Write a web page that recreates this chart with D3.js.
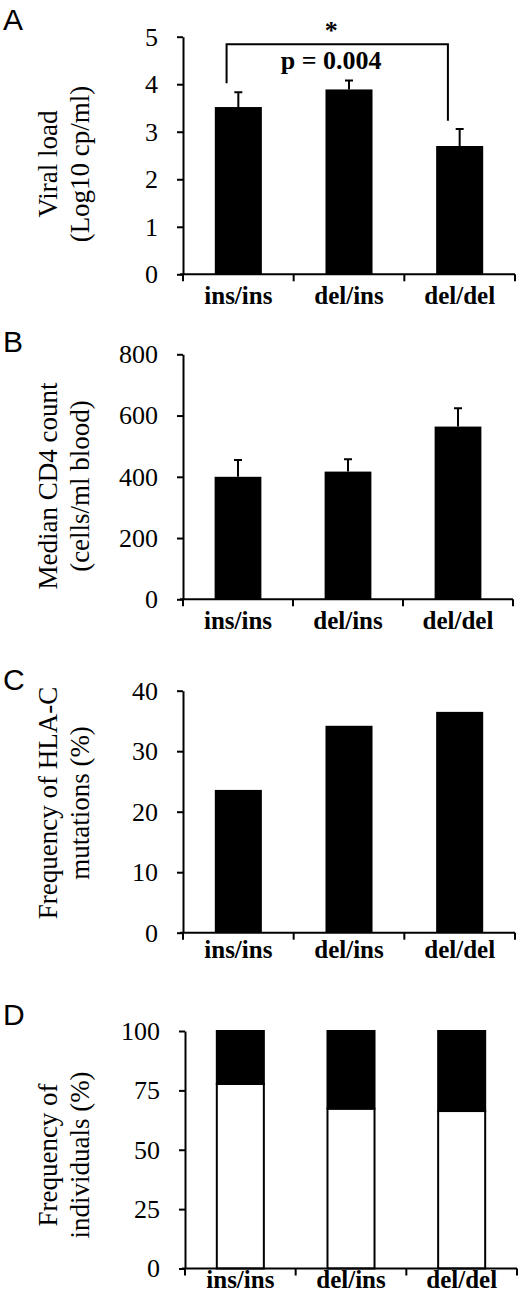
<!DOCTYPE html>
<html lang="en">
<head>
    <meta charset="UTF-8">
    <title>Genotype panels A-D</title>
    <script src="https://cdnjs.cloudflare.com/ajax/libs/d3/7.8.5/d3.min.js"></script>
    <style>
        body {
            margin: 0;
            padding: 0;
            background-color: #fff;
        }
        svg { display: block; }
        .tick text, .title, .sig {
            font-family: "Liberation Serif", "Times New Roman", serif;
            fill: #000;
        }
        .panel-letter {
            font-family: "Liberation Sans", Arial, sans-serif;
            font-size: 30px;
            fill: #000;
        }
        .domain, .tick line {
            stroke: #000;
            stroke-width: 2px;
        }
    </style>
</head>
<body>
    <div id="chart"></div>
    <script>
        // data
        const genotypes = ["ins/ins", "del/ins", "del/del"];

        const viralLoad = [3.52, 3.89, 2.70];
        const viralLoadErr = [0.31, 0.19, 0.36];
        const viralTicks = [0, 1, 2, 3, 4, 5];

        const cd4Count = [400, 417, 564];
        const cd4Err = [55, 40, 60];
        const cd4Ticks = [0, 200, 400, 600, 800];

        const hlaMutFreq = [23.6, 34.2, 36.5];
        const hlaTicks = [0, 10, 20, 30, 40];

        // panel D: lower (white) and upper (black) parts of each stacked bar
        const indivWhite = [77.7, 67.3, 66.3];
        const indivBlack = [22.3, 32.7, 33.7];
        const indivTicks = [0, 25, 50, 75, 100];

        // significance bracket, panel A
        const sigPair = ["ins/ins", "del/del"];
        const sigTop = 4.84;
        const sigLegs = [4.02, 3.23];
        const sigText = "p = 0.004";

        const W = 520, H = 1295;

        const svg = d3.select("#chart").append("svg")
            .attr("width", W)
            .attr("height", H);

        svg.append("rect").attr("width", W).attr("height", H).attr("fill", "#fff");

        const panels = [
            { letter: "A", letterY: 30, x0: 183, x1: 515, y0: 274.3, y1: 36.7, max: 5, ticks: viralTicks,
              title: ["Viral load", "(Log10 cp/ml)"], titleY: 164, labelPad: 12,
              values: viralLoad, err: viralLoadErr },
            { letter: "B", letterY: 352, x0: 183, x1: 513, y0: 599.3, y1: 354.3, max: 800, ticks: cd4Ticks,
              title: ["Median CD4 count", "(cells/ml blood)"], titleY: 486, labelPad: 12,
              values: cd4Count, err: cd4Err },
            { letter: "C", letterY: 690, x0: 183, x1: 515, y0: 932.7, y1: 690.7, max: 40, ticks: hlaTicks,
              title: ["Frequency of HLA-C", "mutations (%)"], titleY: 803, labelPad: 8,
              values: hlaMutFreq },
            { letter: "D", letterY: 1025, x0: 185, x1: 517, y0: 1268.5, y1: 1031, max: 100, ticks: indivTicks,
              title: ["Frequency of", "individuals (%)"], titleY: 1155, labelPad: 2,
              stacks: [indivWhite, indivBlack] }
        ];

        panels.forEach(p => {
            const g = svg.append("g");

            const x = d3.scaleBand()
                .domain(genotypes)
                .range([p.x0, p.x1])
                .paddingInner(0.575)
                .paddingOuter(0.2875);

            const y = d3.scaleLinear()
                .domain([0, p.max])
                .range([p.y0, p.y1]);

            g.append("text")
                .attr("class", "panel-letter")
                .attr("x", 3)
                .attr("y", p.letterY)
                .text(p.letter);

            // y title, two lines
            p.title.forEach((t, i) => {
                g.append("text")
                    .attr("class", "title")
                    .attr("transform", `translate(${57 + i * 32},${p.titleY}) rotate(-90)`)
                    .attr("text-anchor", "middle")
                    .style("font-size", "27px")
                    .text(t);
            });

            // bars
            if (p.values) {
                g.selectAll(".bar")
                    .data(p.values)
                    .enter().append("rect")
                    .attr("x", (d, i) => x(genotypes[i]))
                    .attr("y", d => y(d))
                    .attr("width", x.bandwidth())
                    .attr("height", d => y(0) - y(d))
                    .attr("fill", "#000");
            }

            if (p.err) {
                const cx = i => x(genotypes[i]) + x.bandwidth() / 2;
                g.selectAll(".err")
                    .data(p.values)
                    .enter().append("path")
                    .attr("fill", "none")
                    .attr("stroke", "#000")
                    .attr("stroke-width", 2)
                    .attr("d", (d, i) => {
                        const top = y(d + p.err[i]);
                        return `M${cx(i)},${y(d)}V${top}M${cx(i) - 4},${top}H${cx(i) + 4}`;
                    });
            }

            if (p.stacks) {
                const colours = ["#fff", "#000"];
                let base = genotypes.map(() => 0);
                p.stacks.forEach((s, k) => {
                    g.selectAll(".stack" + k)
                        .data(s)
                        .enter().append("rect")
                        .attr("x", (d, i) => x(genotypes[i]))
                        .attr("y", (d, i) => y(base[i] + d))
                        .attr("width", x.bandwidth())
                        .attr("height", (d, i) => y(base[i]) - y(base[i] + d))
                        .attr("fill", colours[k])
                        .attr("stroke", "#000")
                        .attr("stroke-width", 2);
                    base = base.map((b, i) => b + s[i]);
                });
            }

            // y axis
            const yAxis = g.append("g")
                .attr("transform", `translate(${p.x0},0)`)
                .call(d3.axisLeft(y).tickValues(p.ticks).tickFormat(d3.format("d"))
                    .tickSize(6).tickSizeOuter(0).tickPadding(19));
            yAxis.selectAll("text").style("font-size", "26px");

            // x axis: labels centred in bands, ticks at band boundaries
            const xAxis = g.append("g")
                .attr("transform", `translate(0,${p.y0})`)
                .call(d3.axisBottom(x).tickSize(0).tickSizeOuter(0).tickPadding(p.labelPad));
            xAxis.select(".domain").attr("d", `M${p.x0 - 3},0H${p.x1}`);
            xAxis.selectAll("text").style("font-size", "25px").style("font-weight", "bold");

            const gap = (x.step() - x.bandwidth()) / 2;
            const bounds = genotypes.map(c => x(c) - gap).concat([p.x1]);
            xAxis.selectAll(".bound")
                .data(bounds)
                .enter().append("line")
                .attr("x1", d => d).attr("x2", d => d)
                .attr("y1", 0).attr("y2", 7)
                .attr("stroke", "#000")
                .attr("stroke-width", 2);

            // significance bracket on panel A
            if (p.letter === "A") {
                const bx = sigPair.map(c => x(c) + x.bandwidth() * 0.25);
                g.append("path")
                    .attr("fill", "none")
                    .attr("stroke", "#000")
                    .attr("stroke-width", 2)
                    .attr("d", `M${bx[0]},${y(sigLegs[0])}V${y(sigTop)}H${bx[1]}V${y(sigLegs[1])}`);
                const mid = (bx[0] + bx[1]) / 2 - 6;
                g.append("text")
                    .attr("class", "sig")
                    .attr("x", mid)
                    .attr("y", 69)
                    .attr("text-anchor", "middle")
                    .style("font-size", "26px")
                    .style("font-weight", "bold")
                    .text(sigText);
                g.append("text")
                    .attr("class", "sig")
                    .attr("x", mid)
                    .attr("y", 39)
                    .attr("text-anchor", "middle")
                    .style("font-size", "26px")
                    .style("font-weight", "bold")
                    .text("*");
            }
        });
    </script>
</body>
</html>
